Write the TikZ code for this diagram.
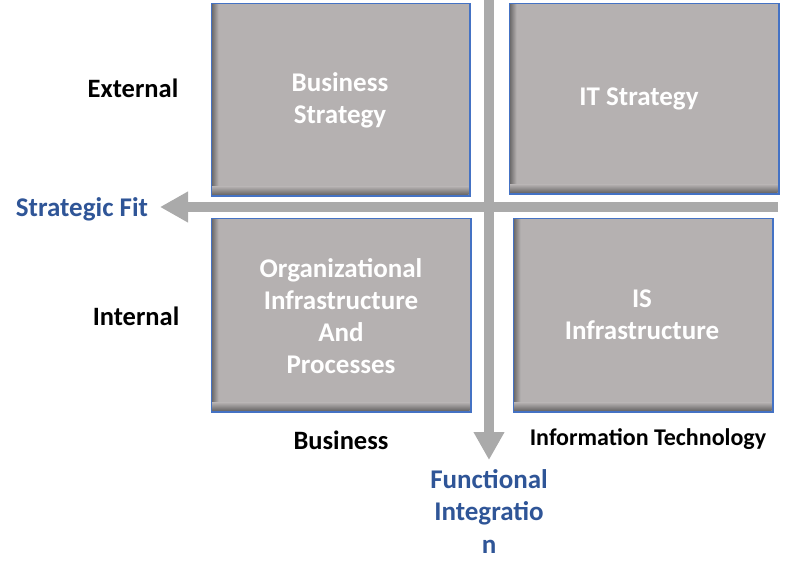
\documentclass[tikz,border=0pt]{standalone}
\usepackage{fontspec}
\setmainfont{Carlito}
\usetikzlibrary{arrows.meta}
\definecolor{boxgray}{RGB}{181,177,177}
\definecolor{shadowgray}{RGB}{105,103,103}
\definecolor{arrowgray}{RGB}{170,170,170}
\definecolor{edgeblue}{RGB}{68,114,196}
\definecolor{textblue}{RGB}{47,85,151}
\tikzset{
  quad/.style={draw=edgeblue, line width=1pt, fill=boxgray, inner sep=0pt,
    text=white, font=\bfseries\fontsize{27}{32}\selectfont, align=center},
  lbl/.style={font=\bfseries\fontsize{26.5}{32}\selectfont, text=black, inner sep=0pt},
  bluelbl/.style={font=\bfseries\fontsize{27}{32.5}\selectfont, text=textblue, align=center, inner sep=0pt},
  bigarrow/.style={draw=arrowgray, line width=10pt, -{Triangle[width=29pt,length=28pt]}}
}
\newcommand{\shadebox}[4]{%
  \shade[left color=shadowgray, right color=boxgray] (#1,#2) rectangle (#1+7,#4);
  \shade[bottom color=shadowgray, top color=boxgray] (#1,#4) rectangle (#3,#4-8);
}
\begin{document}
\begin{tikzpicture}[x=1pt,y=-1pt]
\useasboundingbox (0,0) rectangle (800,574);
% arrows
\coordinate (hstart) at (778,207);
\coordinate (hend) at (160,207);
\coordinate (vstart) at (489,0);
\coordinate (vend) at (489,460);
\draw[bigarrow] (hstart) -- (hend);
\draw[bigarrow] (vstart) -- (vend);
% boxes
\node[quad, minimum width=258pt, minimum height=192pt, anchor=north west] (bs) at (211,3) {};
\node[quad, minimum width=269pt, minimum height=190pt, anchor=north west] (its) at (509,3) {};
\node[quad, minimum width=259pt, minimum height=193pt, anchor=north west] (org) at (211,218) {};
\node[quad, minimum width=259pt, minimum height=193pt, anchor=north west] (isi) at (513,218) {};
\shadebox{211.5}{3.5}{468.5}{194.5}
\shadebox{509.5}{3.5}{777.5}{192.5}
\shadebox{211.5}{218.5}{469.5}{410.5}
\shadebox{513.5}{218.5}{771.5}{410.5}
\draw[edgeblue, line width=1pt] (bs.north west) rectangle (bs.south east);
\draw[edgeblue, line width=1pt] (its.north west) rectangle (its.south east);
\draw[edgeblue, line width=1pt] (org.north west) rectangle (org.south east);
\draw[edgeblue, line width=1pt] (isi.north west) rectangle (isi.south east);
\node[quad, draw=none, fill=none] (bst) at (340,100) {Business\\Strategy};
\node[quad, draw=none, fill=none] (itt) at (639,99) {IT Strategy};
\node[quad, draw=none, fill=none] (orgt) at (341,316) {Organizational\\Infrastructure\\And\\Processes};
\node[quad, draw=none, fill=none] (ist) at (642,315) {IS\\Infrastructure};
% labels
\node[lbl] (ext) at (133,88) {External};
\node[lbl] (int) at (136,316) {Internal};
\node[bluelbl] (sf) at (82,209) {Strategic Fit};
\node[lbl] (bus) at (341,440) {Business};
\node[lbl, font=\bfseries\fontsize{24}{28}\selectfont] (it) at (648,439) {Information Technology};
\node[bluelbl] (fi) at (489,511) {Functional\\Integratio\\n};
\end{tikzpicture}
\end{document}
